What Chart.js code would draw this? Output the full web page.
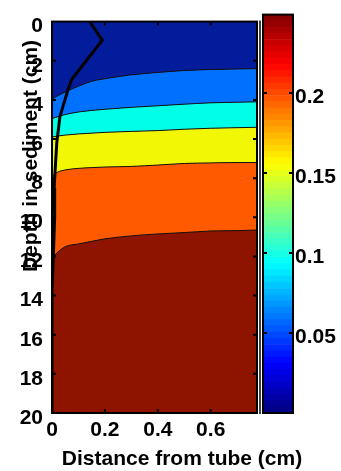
<!DOCTYPE html>
<html>
<head>
<meta charset="utf-8">
<script src="https://cdn.jsdelivr.net/npm/chart.js@4.4.0/dist/chart.umd.min.js"></script>
<style>
  body { margin: 0; background: #fff; }
  canvas { position: absolute; left: 0; top: 0; }
</style>
</head>
<body>
<canvas id="contour" width="341" height="471"></canvas>
<canvas id="colorbar" width="341" height="471"></canvas>
<script>
// distance from tube (cm) where the contour edges were read
var distance = [0, 0.02, 0.05, 0.1, 0.15, 0.2, 0.3, 0.4, 0.5, 0.6, 0.7, 0.775];
// depth (cm) of each contour edge, from top band to bottom band
var edge1 = [3.95, 3.8, 3.6, 3.3, 3.05, 2.92, 2.72, 2.6, 2.5, 2.45, 2.42, 2.4];
var edge2 = [4.95, 4.87, 4.75, 4.62, 4.54, 4.48, 4.38, 4.3, 4.22, 4.15, 4.12, 4.1];
var edge3 = [5.9, 5.85, 5.8, 5.74, 5.7, 5.66, 5.61, 5.57, 5.5, 5.45, 5.42, 5.4];
var edge4 = [7.9, 7.7, 7.58, 7.5, 7.46, 7.43, 7.4, 7.33, 7.25, 7.22, 7.2, 7.2];
var edge5 = [12.1, 11.8, 11.5, 11.36, 11.23, 11.1, 10.95, 10.85, 10.78, 10.7, 10.68, 10.65];

// black profile line
var profileDist  = [0.143, 0.19, 0.075, 0.06, 0.03, 0.018, 0.008, 0.01, 0.005, 0, 0];
var profileDepth = [0, 0.95, 2.95, 3.5, 4.85, 6.2, 8.5, 10, 12, 13.7, 20];

var bandColors = ['#031c9c', '#0070ff', '#00ffe6', '#f2f705', '#ff5a00'];
var deepColor = '#8f1400';

var depthTicks = [0, 2, 4, 6, 8, 10, 12, 14, 16, 18, 20];
var distTicks = [0, 0.2, 0.4, 0.6];
var barTicks = [0.05, 0.1, 0.15, 0.2];
var barMax = 0.249;
var barSteps = 64;

Chart.defaults.font.family = 'Liberation Sans, Arial, sans-serif';
Chart.defaults.font.size = 21;
Chart.defaults.font.weight = 'bold';
Chart.defaults.color = '#000';

function pts(xs, ys) {
    return xs.map(function (x, i) { return {x: x, y: ys[i]}; });
}

var edges = [edge1, edge2, edge3, edge4, edge5];
var datasets = [{
    data: pts(profileDist, profileDepth),
    borderColor: '#000',
    borderWidth: 3,
    pointRadius: 0,
    fill: false
}];
edges.forEach(function (e, i) {
    datasets.push({
        data: pts(distance, e),
        borderColor: '#111',
        borderWidth: 1,
        pointRadius: 0,
        cubicInterpolationMode: 'monotone',
        backgroundColor: bandColors[i],
        fill: i === 0 ? 'end' : '-1'
    });
});

/* рамка, внутренние засечки и подписи осей */
var boxPlugin = {
    id: 'box',
    beforeDraw: function (chart) {
        var a = chart.chartArea, c = chart.ctx;
        c.fillStyle = deepColor;
        c.fillRect(a.left, a.top, a.right - a.left, a.bottom - a.top);
    },
    afterDraw: function (chart) {
        var a = chart.chartArea, c = chart.ctx;
        var sx = chart.scales.x, sy = chart.scales.y;
        c.save();
        c.strokeStyle = '#000';
        c.lineWidth = 2;
        c.strokeRect(a.left, a.top, a.right - a.left, a.bottom - a.top);
        c.lineWidth = 1.5;
        c.beginPath();
        c.moveTo(260, a.top - 1);
        c.lineTo(260, a.bottom + 1);
        c.stroke();
        c.lineWidth = 2;
        c.beginPath();
        distTicks.slice(1).forEach(function (v) {
            var px = sx.getPixelForValue(v);
            c.moveTo(px, a.top); c.lineTo(px, a.top + 4);
            c.moveTo(px, a.bottom); c.lineTo(px, a.bottom - 4);
        });
        depthTicks.slice(1, -1).forEach(function (v) {
            var py = sy.getPixelForValue(v);
            c.moveTo(a.left, py); c.lineTo(a.left + 4, py);
            c.moveTo(a.right, py); c.lineTo(a.right - 4, py);
        });
        c.stroke();
        c.fillStyle = '#000';
        c.font = 'bold 21px Liberation Sans, Arial, sans-serif';
        c.textAlign = 'center';
        c.textBaseline = 'alphabetic';
        c.fillText('Distance from tube (cm)', 182, 465);
        c.translate(37, 156);
        c.rotate(-Math.PI / 2);
        c.fillText('Depth in sediment (cm)', 0, 0);
        c.restore();
    }
};

new Chart(document.getElementById('contour').getContext('2d'), {
    type: 'line',
    data: {datasets: datasets},
    options: {
        responsive: false,
        animation: false,
        layout: {padding: {left: 0, right: 84, top: 13, bottom: 0}},
        plugins: {
            legend: {display: false},
            tooltip: {enabled: false},
            filler: {drawTime: 'beforeDatasetsDraw'}
        },
        scales: {
            x: {
                type: 'linear', min: 0, max: 0.775,
                grid: {display: false, drawTicks: false},
                border: {display: false},
                afterBuildTicks: function (s) { s.ticks = distTicks.map(function (v) { return {value: v}; }); },
                afterFit: function (s) { s.height = 58; },
                ticks: {padding: 5, maxRotation: 0, autoSkip: false, callback: function (v) { return String(v); }}
            },
            y: {
                type: 'linear', min: 0, max: 20, reverse: true,
                grid: {display: false, drawTicks: false},
                border: {display: false},
                afterBuildTicks: function (s) { s.ticks = depthTicks.map(function (v) { return {value: v}; }); },
                afterFit: function (s) { s.width = 52; },
                ticks: {padding: 9, labelOffset: 5, autoSkip: false, callback: function (v) { return String(v); }}
            }
        }
    },
    plugins: [boxPlugin]
});

/* цветовая шкала */
function jet(t) {
    function f(v) { return Math.round(255 * Math.max(0, Math.min(1, v))); }
    return 'rgb(' + f(1.5 - Math.abs(4 * t - 3)) + ',' + f(1.5 - Math.abs(4 * t - 2)) + ',' + f(1.5 - Math.abs(4 * t - 1)) + ')';
}
var barSets = [];
for (var i = 0; i < barSteps; i++) {
    barSets.push({
        data: [[barMax * i / barSteps, barMax * (i + 1) / barSteps]],
        backgroundColor: jet((i + 0.5) / barSteps),
        borderWidth: 0,
        grouped: false,
        barPercentage: 1,
        categoryPercentage: 1
    });
}

var barBox = {
    id: 'barBox',
    afterDraw: function (chart) {
        var a = chart.chartArea, c = chart.ctx, sy = chart.scales.y;
        c.save();
        c.strokeStyle = '#000';
        c.lineWidth = 2;
        c.strokeRect(a.left, a.top, a.right - a.left, a.bottom - a.top);
        c.beginPath();
        barTicks.forEach(function (v) {
            var py = sy.getPixelForValue(v);
            c.moveTo(a.left, py); c.lineTo(a.left + 4, py);
            c.moveTo(a.right, py); c.lineTo(a.right - 4, py);
        });
        c.stroke();
        c.restore();
    }
};

new Chart(document.getElementById('colorbar').getContext('2d'), {
    type: 'bar',
    data: {labels: ['c'], datasets: barSets},
    options: {
        responsive: false,
        animation: false,
        layout: {padding: {left: 263, right: 0, top: 13, bottom: 58}},
        plugins: {legend: {display: false}, tooltip: {enabled: false}},
        scales: {
            x: {display: false},
            y: {
                position: 'right', min: 0, max: barMax,
                grid: {display: false, drawTicks: false},
                border: {display: false},
                afterBuildTicks: function (s) { s.ticks = barTicks.map(function (v) { return {value: v}; }); },
                afterFit: function (s) { s.width = 48; },
                ticks: {padding: 2, labelOffset: 4, autoSkip: false, callback: function (v) { return String(v); }}
            }
        }
    },
    plugins: [barBox]
});
</script>
</body>
</html>
